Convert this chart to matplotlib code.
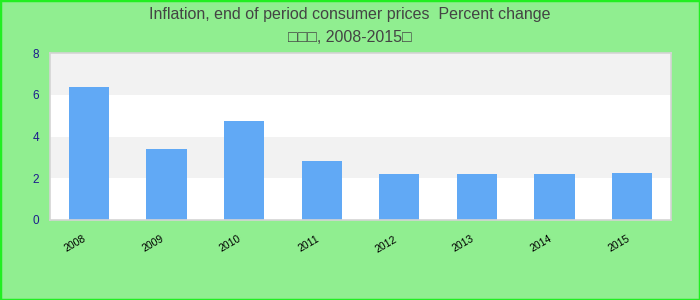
import matplotlib
matplotlib.use("Agg")
from matplotlib import pyplot as plt
from matplotlib.patches import Rectangle
from matplotlib.transforms import ScaledTranslation

years = ["2008", "2009", "2010", "2011", "2012", "2013", "2014", "2015"]
inflation = [6.36, 3.40, 4.74, 2.82, 2.20, 2.20, 2.20, 2.25]
y_ticks = [0, 2, 4, 6, 8]
title_lines = ["Inflation, end of period consumer prices  Percent change",
               "\u25a1\u25a1\u25a1, 2008-2015\u25a1"]

plt.rcParams['font.family'] = ['Liberation Sans', 'DejaVu Sans']

bg = "#90ee90"
fig = plt.figure(figsize=(7, 3), dpi=100, facecolor=bg)
ax = fig.add_axes([50 / 700, 1 - 220 / 300, 621 / 700, 167 / 300])
ax.set_facecolor("white")

# alternating grey bands
for lo in (2, 6):
    ax.axhspan(lo, lo + 2, color="#f2f2f2", zorder=0, lw=0)

x = range(len(years))
ax.bar(x, inflation, width=0.52, color="#61a9f5", zorder=2)

ax.set_xlim(-0.5, len(years) - 0.5)
ax.set_ylim(0, 8)
ax.set_yticks(y_ticks)
ax.set_yticklabels([str(t) for t in y_ticks], color="#1c1c8c", fontsize=8.5)
ax.set_xticks(list(x))
ax.set_xticklabels(years, rotation=30, fontsize=7.5, color="black", ha="right", rotation_mode="anchor")
ax.tick_params(axis="both", length=0)
ax.tick_params(axis="y", pad=8)
ax.tick_params(axis="x", pad=10)
shift = ScaledTranslation(-0.06, 0, fig.dpi_scale_trans)
for lbl in ax.get_xticklabels():
    lbl.set_transform(lbl.get_transform() + shift)
for s in ax.spines.values():
    s.set_color("#d4d4d4")
    s.set_linewidth(1.2)

fig.text(0.5, 1 - 14 / 300, title_lines[0], ha="center", va="center", fontsize=11.5, color="#444444")
fig.text(0.5, 1 - 37 / 300, title_lines[1], ha="center", va="center", fontsize=11.5, color="#444444")

# outer bright green border
fig.patches.append(Rectangle((0, 0), 1, 1, transform=fig.transFigure, fill=False,
                             edgecolor="#22ee22", linewidth=2.5))

fig.savefig("out.png", dpi=100, facecolor=bg)
